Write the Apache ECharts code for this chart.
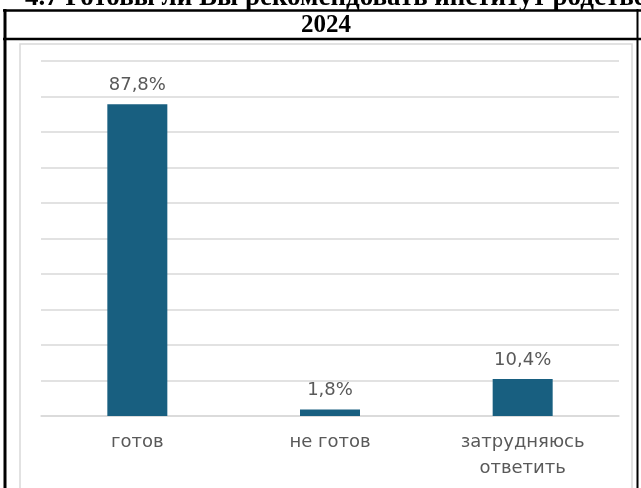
<!DOCTYPE html>
<html><head><meta charset="utf-8">
<script src="https://cdn.jsdelivr.net/npm/echarts@6/dist/echarts.min.js"></script>
<style>html,body{margin:0;padding:0;background:#fff}#c{width:641px;height:488px}</style>
</head><body><div id="c"></div>
<script>
const categories = ['готов', 'не готов', 'затрудняюсь\nответить'];
const values = [87.8, 1.8, 10.4];
const titleText = '4.7 Готовы ли Вы рекомендовать институт родственникам и знакомым?';
const yearText = '2024';

const chart = echarts.init(document.getElementById('c'), null, {renderer: 'canvas'});
chart.setOption({
  animation: false,
  backgroundColor: '#fff',
  grid: {left: 41, right: 22, top: 61, bottom: 72},
  xAxis: {
    type: 'category', data: categories,
    axisLine: {lineStyle: {color: '#d9d9d9', width: 1.5}},
    axisTick: {show: false},
    axisLabel: {color: '#595959', fontSize: 18, fontFamily: 'DejaVu Sans', margin: 13, lineHeight: 26}
  },
  yAxis: {
    type: 'value', min: 0, max: 100, interval: 10,
    axisLabel: {show: false}, axisLine: {show: false}, axisTick: {show: false},
    splitLine: {lineStyle: {color: '#d9d9d9', width: 1.5}}
  },
  series: [{
    type: 'bar', data: values, barWidth: 60,
    itemStyle: {color: '#185f80'},
    label: {show: true, position: 'top', distance: 10, color: '#595959', fontSize: 18, fontFamily: 'DejaVu Sans',
      formatter: p => String(p.value).replace('.', ',') + '%'}
  }],
  graphic: [
    {type: 'text', x: 25, y: -2, style: {text: titleText, font: 'bold 27px "Liberation Serif"', fill: '#000', verticalAlign: 'middle'}},
    {type: 'rect', shape: {x: 20, y: 44, width: 612, height: 460}, style: {fill: 'none', stroke: '#d9d9d9', lineWidth: 1.5}},
    {type: 'line', shape: {x1: 3, y1: 10.5, x2: 641, y2: 10.5}, style: {stroke: '#000', lineWidth: 2.5}},
    {type: 'line', shape: {x1: 3, y1: 39, x2: 641, y2: 39}, style: {stroke: '#000', lineWidth: 2.5}},
    {type: 'line', shape: {x1: 5, y1: 9, x2: 5, y2: 488}, style: {stroke: '#000', lineWidth: 3}},
    {type: 'line', shape: {x1: 637.5, y1: 9, x2: 637.5, y2: 488}, style: {stroke: '#000', lineWidth: 2}},
    {type: 'text', x: 326, y: 25.5, style: {text: yearText, font: 'bold 25px "Liberation Serif"', fill: '#000', align: 'center', verticalAlign: 'middle'}}
  ]
});
</script></body></html>
